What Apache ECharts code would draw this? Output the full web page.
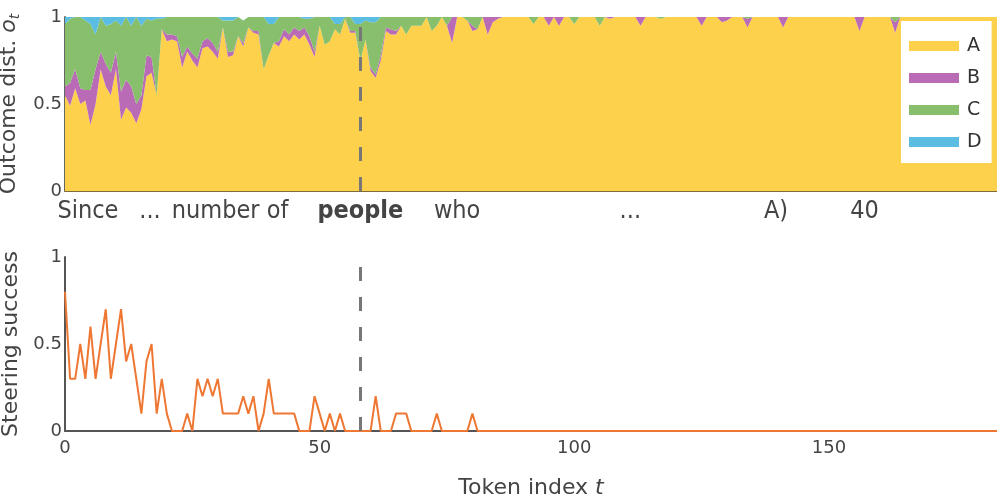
<!DOCTYPE html>
<html>
<head>
<meta charset="utf-8">
<script src="https://cdn.jsdelivr.net/npm/echarts@6/dist/echarts.min.js"></script>
<style>
  html, body { margin: 0; padding: 0; background: #fff; }
  #chart { width: 997px; height: 498px; }
</style>
</head>
<body>
<div id="chart"></div>
<script>
// Outcome distribution per token (t = 0..183)
const distA = [
  .55,.49,.59,.50,.52,.38,.50,.70,.60,.55,
  .70,.41,.48,.45,.39,.47,.66,.68,.55,.93,
  .86,.87,.86,.71,.80,.75,.71,.82,.83,.80,
  .76,.94,.77,.78,.89,.83,.94,.91,.90,.70,
  .78,.85,.83,.89,.86,.90,.87,.90,.84,.77,
  .95,.84,.86,.93,.90,.99,.91,.91,.75,.87,
  .69,.65,.75,.92,.90,.90,.95,.90,.95,.95,
  .95,1,.92,.95,1,.95,.85,1,1,.98,
  .92,.93,1,.90,.97,.99,1,1,1,1,
  1,1,.96,1,1,.95,1,.95,1,1,
  .96,1,1,1,1,.95,1,.99,1,1,
  1,1,1,.95,1,1,1,.99,1,1,
  1,1,1,1,1,.95,1,1,1,.97,
  .98,1,1,1,.94,1,1,1,1,1,
  1,.94,1,1,1,1,1,1,1,1,
  1,1,1,1,1,1,.92,1,1,1,
  1,1,1,.91,1,1,1,1,1,1,
  1,1,1,1,1,1,1,1,1,1,
  1,1,1,1
];
const distB = [
  .05,.13,.11,.09,.06,.20,.20,.10,.13,.13,
  .10,.16,.16,.15,.11,.08,.12,.09,0,0,
  .04,.03,.03,.06,.03,.04,.05,.04,.05,.05,
  .04,0,.03,.02,0,.02,0,.01,.02,0,
  0,0,.03,.04,.04,.04,.05,.04,.05,.03,
  0,0,0,0,0,0,.01,.01,0,0,
  .02,.02,.03,.02,.03,.02,0,0,0,0,
  0,0,0,0,0,0,.15,0,0,0,
  .03,0,0,.10,.03,.01,0,0,0,0,
  0,0,0,0,0,.05,0,.05,0,0,
  0,0,0,0,0,0,0,.01,0,0,
  0,0,0,.05,0,0,0,0,0,0,
  0,0,0,0,0,.05,0,0,0,.03,
  .02,0,0,0,.05,0,0,0,0,0,
  0,.06,0,0,0,0,0,0,0,0,
  0,0,0,0,0,0,.08,0,0,0,
  0,0,0,.06,0,0,0,0,0,0,
  0,0,0,0,0,0,0,0,0,0,
  0,0,0,0
];
const distC = [
  .36,.37,.30,.41,.40,.38,.20,.20,.22,.28,
  .18,.38,.36,.35,.50,.40,.21,.21,.44,.06,
  .10,.10,.11,.23,.17,.21,.24,.14,.12,.15,
  .20,.04,.18,.18,.11,.13,.06,.08,.08,.30,
  .18,.11,.14,.07,.10,.06,.08,.05,.10,.20,
  .05,.16,.14,.03,.06,.01,.08,.04,.21,.11,
  .26,.30,.22,.06,.07,.08,.05,.10,.05,.05,
  .05,0,.08,.05,0,.05,0,0,0,.02,
  .05,.07,0,0,0,0,0,0,0,0,
  0,0,.04,0,0,0,0,0,0,0,
  .04,0,0,0,0,.05,0,0,0,0,
  0,0,0,0,0,0,0,.01,0,0,
  0,0,0,0,0,0,0,0,0,0,
  0,0,0,0,.01,0,0,0,0,0,
  0,0,0,0,0,0,0,0,0,0,
  0,0,0,0,0,0,0,0,0,0,
  0,0,0,.03,0,0,0,0,0,0,
  0,0,0,0,0,0,0,0,0,0,
  0,0,0,0
];
const distD = [
  .04,.01,0,0,.02,.04,.10,0,.05,.04,
  .02,.05,0,.05,0,.05,.01,.02,.01,.01,
  0,0,0,0,0,0,0,0,0,0,
  0,.02,.02,.02,0,0,0,0,0,0,
  .04,.04,0,0,0,0,0,.01,.01,0,
  0,0,0,.04,.04,0,0,.04,.04,.02,
  .03,.03,0,0,0,0,0,0,0,0,
  0,0,0,0,0,0,0,0,0,0,
  0,0,0,0,0,0,0,0,0,0,
  0,0,0,0,0,0,0,0,0,0,
  0,0,0,0,0,0,0,0,0,0,
  0,0,0,0,0,0,0,0,0,0,
  0,0,0,0,0,0,0,0,0,0,
  0,0,0,0,0,0,0,0,0,0,
  0,0,0,0,0,0,0,0,0,0,
  0,0,0,0,0,0,0,0,0,0,
  0,0,0,0,0,0,0,0,0,0,
  0,0,0,0,0,0,0,0,0,0,
  0,0,0,0
];
// Steering success per token
const steering = [
  .8,.3,.3,.5,.3,.6,.3,.5,.7,.3,
  .5,.7,.4,.5,.3,.1,.4,.5,.1,.3,
  .1,0,0,0,.1,0,.3,.2,.3,.2,
  .3,.1,.1,.1,.1,.2,.1,.2,0,.1,
  .3,.1,.1,.1,.1,.1,0,0,0,.2,
  .1,0,.1,0,.1,0,0,0,0,0,
  0,.2,0,0,0,.1,.1,.1,0,0,
  0,0,0,.1,0,0,0,0,0,0,
  .1,0,0,0,0,0,0,0,0,0,
  0,0,0,0,0,0,0,0,0,0,
  0,0,0,0,0,0,0,0,0,0,
  0,0,0,0,0,0,0,0,0,0,
  0,0,0,0,0,0,0,0,0,0,
  0,0,0,0,0,0,0,0,0,0,
  0,0,0,0,0,0,0,0,0,0,
  0,0,0,0,0,0,0,0,0,0,
  0,0,0,0,0,0,0,0,0,0,
  0,0,0,0,0,0,0,0,0,0,
  0,0,0,0
];
const seriesNames = ['A', 'B', 'C', 'D'];
const seriesColors = ['#FDD14B', '#B96BB6', '#87BF6D', '#5BBDE1'];
// Prompt words shown under the top panel, at their token index
const wordLabels = ['Since', '...', 'number of', 'people', 'who', '...', 'A)', '40'];
const wordTokens = [4.5, 16.7, 32.4, 58, 77, 111, 139.6, 157];
const steerToken = 58;
const xMax = 183;

const tokens = distA.map(function(_, i) { return String(i); });
const FONT = 'DejaVu Sans';
const WORD_FONT = "'DejaVu Sans Condensed', 'Liberation Sans Narrow', sans-serif";
const TXT = '#444';

const dashLine = {
    silent: true,
    symbol: 'none',
    label: { show: false },
    lineStyle: { color: '#777', width: 3, type: [14, 16], opacity: 1 },
    data: [{ xAxis: steerToken }]
};

const distSeries = [distA, distB, distC, distD].map(function(vals, k) {
    const s = {
        name: seriesNames[k],
        type: 'line',
        stack: 'dist',
        xAxisIndex: 0,
        yAxisIndex: 0,
        symbol: 'none',
        color: seriesColors[k],
        itemStyle: { color: seriesColors[k] },
        lineStyle: { width: 0 },
        areaStyle: { color: seriesColors[k], opacity: 1 },
        data: vals
    };
    if (k === 3) s.markLine = dashLine;
    return s;
});

const richName = {
    n: { fontSize: 22, fontFamily: FONT, color: TXT, lineHeight: 26 },
    i: { fontSize: 22, fontFamily: FONT, color: TXT, fontStyle: 'italic', lineHeight: 26 },
    s: { fontSize: 14, fontFamily: FONT, color: TXT, fontStyle: 'italic', lineHeight: 14, verticalAlign: 'bottom' }
};

const chart = echarts.init(document.getElementById('chart'));
chart.setOption({
    animation: false,
    backgroundColor: '#fff',
    legend: {
        data: seriesNames,
        left: 901,
        top: 21,
        orient: 'vertical',
        backgroundColor: '#fff',
        padding: [15, 10, 11, 8],
        itemGap: 12,
        itemWidth: 50,
        itemHeight: 10,
        icon: 'rect',
        selectedMode: false,
        textStyle: { fontSize: 19, fontFamily: FONT, color: '#333', lineHeight: 20, padding: [0, 0, 0, 3] }
    },
    grid: [
        { left: 65, top: 17, width: 932, height: 174, outerBoundsMode: 'none', containLabel: false },
        { left: 65, top: 257, width: 932, height: 174, outerBoundsMode: 'none', containLabel: false }
    ],
    xAxis: [
        {
            type: 'category', gridIndex: 0, data: tokens, boundaryGap: false,
            splitLine: { show: false },
            axisTick: { show: false },
            axisLabel: { show: false },
            axisLine: { show: true, onZero: false, lineStyle: { color: '#7d6d3c', width: 2 } }
        },
        {
            type: 'category', gridIndex: 1, data: tokens, boundaryGap: false,
            splitLine: { show: false },
            axisTick: { show: false },
            axisLine: { show: true, onZero: false, lineStyle: { color: '#555', width: 2 } },
            axisLabel: { interval: 49, margin: 8, fontSize: 18, fontFamily: FONT, color: TXT },
            name: '{n|Token index }{i|t}',
            nameLocation: 'middle',
            nameGap: 44,
            nameTextStyle: { rich: richName }
        },
        {
            // word labels of the prompt, placed by token index
            type: 'value', gridIndex: 0, min: 0, max: xMax, position: 'bottom',
            splitLine: { show: false },
            axisTick: { show: false },
            axisLine: { show: false },
            axisLabel: {
                customValues: wordTokens,
                margin: 8,
                fontSize: 25,
                fontFamily: WORD_FONT,
                color: TXT,
                formatter: function(v) {
                    const idx = wordTokens.indexOf(v);
                    if (idx < 0) return '';
                    return wordLabels[idx] === 'people' ? '{b|people}' : wordLabels[idx];
                },
                rich: { b: { fontWeight: 'bold', fontSize: 25, color: TXT, fontFamily: WORD_FONT } }
            }
        }
    ],
    yAxis: [
        {
            type: 'value', gridIndex: 0, min: 0, max: 1, interval: 0.5,
            splitLine: { show: false },
            axisTick: { show: false },
            axisLine: { show: true, lineStyle: { color: '#666', width: 2 } },
            axisLabel: { margin: 3, fontSize: 18, fontFamily: FONT, color: TXT },
            name: '{n|Outcome dist. }{i|o}{s|t}',
            nameLocation: 'middle',
            nameRotate: 90,
            nameGap: 36,
            nameTextStyle: { rich: richName }
        },
        {
            type: 'value', gridIndex: 1, min: 0, max: 1, interval: 0.5,
            splitLine: { show: false },
            axisTick: { show: false },
            axisLine: { show: true, lineStyle: { color: '#555', width: 2 } },
            axisLabel: { margin: 3, fontSize: 18, fontFamily: FONT, color: TXT },
            name: '{n|Steering success}',
            nameLocation: 'middle',
            nameRotate: 90,
            nameGap: 36,
            nameTextStyle: { rich: richName }
        }
    ],
    series: distSeries.concat([
        {
            name: 'steering',
            type: 'line',
            xAxisIndex: 1,
            yAxisIndex: 1,
            symbol: 'none',
            color: '#EE7733',
            lineStyle: { color: '#EE7733', width: 2 },
            data: steering,
            markLine: dashLine
        }
    ])
});
</script>
</body>
</html>
